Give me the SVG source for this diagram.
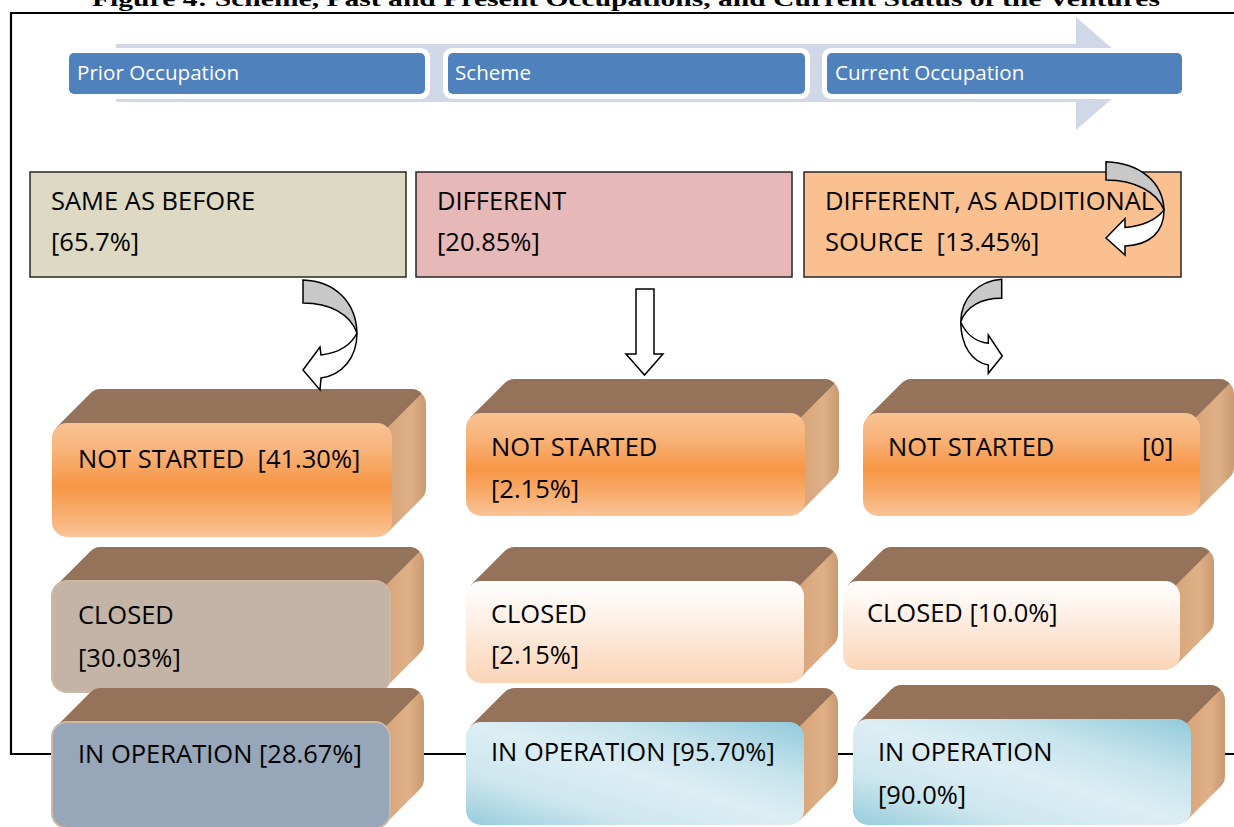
<svg xmlns="http://www.w3.org/2000/svg" width="1234" height="827" viewBox="0 0 1234 827">
<defs>
<style>
.t{font-family:"Open Sans","Noto Sans","Liberation Sans",sans-serif;font-size:25.5px;fill:#000;white-space:pre}
.h{font-family:"Open Sans","Noto Sans","Liberation Sans",sans-serif;font-size:20.6px;fill:#fff}
.frame{stroke:#000;stroke-width:2.2;fill:none}
.sil{fill:#D8A67B}
.top{fill:#94735A}
.arw{stroke:#000;stroke-width:1.5;stroke-linejoin:miter}
.g{fill:#C8C8C8}
.w{fill:#fff}
.r2{stroke:#262626;stroke-width:1.5}
</style>
<linearGradient id="gOrange" x1="0" y1="0" x2="0" y2="1">
<stop offset="0" stop-color="#F9C293"/>
<stop offset="0.22" stop-color="#F8B57D"/>
<stop offset="0.55" stop-color="#F79646"/>
<stop offset="0.8" stop-color="#F8AE70"/>
<stop offset="1" stop-color="#FAC498"/>
</linearGradient>
<linearGradient id="gPeach" x1="0" y1="0" x2="0" y2="1">
<stop offset="0" stop-color="#FFFFFF"/>
<stop offset="0.35" stop-color="#FEF1E8"/>
<stop offset="1" stop-color="#FAD4B6"/>
</linearGradient>
<linearGradient id="gBlue" x1="0" y1="1" x2="1" y2="0">
<stop offset="0" stop-color="#96CCDC"/>
<stop offset="0.25" stop-color="#CDE6EE"/>
<stop offset="0.5" stop-color="#DDEEF4"/>
<stop offset="0.72" stop-color="#C6E3EC"/>
<stop offset="1" stop-color="#92CADB"/>
</linearGradient>
<linearGradient id="gSide" x1="0" y1="0" x2="1" y2="0">
<stop offset="0" stop-color="#D8A67B"/>
<stop offset="0.9" stop-color="#D8A67B"/>
<stop offset="0.96" stop-color="#DFB087"/>
<stop offset="1" stop-color="#C99A70"/>
</linearGradient>
</defs>
<rect x="0" y="0" width="1234" height="827" fill="#fff"/>

<text x="92" y="6" font-family="Liberation Serif,serif" font-weight="bold" font-size="22" textLength="1068" lengthAdjust="spacingAndGlyphs">Figure 4: Scheme, Past and Present Occupations, and Current Status of the Ventures</text>

<g id="frame">
<line class="frame" x1="10" y1="13" x2="1234" y2="13" stroke-width="2.6"/>
<line class="frame" x1="11" y1="12" x2="11" y2="755"/>
<line class="frame" x1="10" y1="754" x2="1234" y2="754"/>
</g>

<g id="header">
<polygon points="116,44 1076,44 1076,17 1141,73.5 1076,130 1076,102 116,102" fill="#D0D8E8"/>
<g id="hdr-prior">
<rect x="64" y="48" width="366" height="51" rx="9" fill="#fff"/>
<rect x="69" y="53" width="356" height="41" rx="5" fill="#4F81BD"/>
<text class="h" x="77" y="80">Prior Occupation</text>
</g>
<g id="hdr-scheme">
<rect x="443" y="48" width="367" height="51" rx="9" fill="#fff"/>
<rect x="448" y="53" width="357" height="41" rx="5" fill="#4F81BD"/>
<text class="h" x="455" y="80">Scheme</text>
</g>
<g id="hdr-current">
<rect x="822" y="48" width="365" height="51" rx="9" fill="#fff"/>
<rect x="827" y="53" width="355" height="41" rx="5" fill="#4F81BD"/>
<text class="h" x="835" y="80">Current Occupation</text>
</g>
</g>

<g id="same">
<rect class="r2" x="30" y="172" width="376" height="105" fill="#DDD9C3"/>
<text class="t" x="51" y="210">SAME AS BEFORE</text>
<text class="t" x="51" y="251">[65.7%]</text>
</g>
<g id="different">
<rect class="r2" x="416" y="172" width="376" height="105" fill="#E6B8B7"/>
<text class="t" x="437" y="210">DIFFERENT</text>
<text class="t" x="437" y="251">[20.85%]</text>
</g>
<g id="additional">
<rect class="r2" x="804" y="172" width="377" height="105" fill="#FAC090"/>
<text class="t" x="825" y="210">DIFFERENT, AS ADDITIONAL</text>
<text class="t" x="825" y="251">SOURCE  [13.45%]</text>
</g>

<!-- 3D boxes -->
<g id="c1-notstarted" transform="translate(52,423)">
<path fill="url(#gSide)" d="M4.4,4.4 L38.4,-29.6 A15,15 0 0 1 49,-34 L359,-34 A15,15 0 0 1 374,-19 L374,65 A15,15 0 0 1 369.6,75.6 L335.6,109.6 L15,99 Z"/>
<path class="top" d="M4.4,4.4 L38.4,-29.6 A15,15 0 0 1 49,-34 L359,-34 A15,15 0 0 1 369.6,-29.6 L335.6,4.4 Z"/>
<rect x="0" y="0" width="340" height="114" rx="15" fill="url(#gOrange)"/>
<text class="t" x="26" y="45">NOT STARTED  [41.30%]</text>
</g>
<g id="c1-closed" transform="translate(52,581)">
<path fill="url(#gSide)" d="M4.4,4.4 L38.4,-29.6 A15,15 0 0 1 49,-34 L357,-34 A15,15 0 0 1 372,-19 L372,62 A15,15 0 0 1 367.6,72.6 L333.6,106.6 L15,96 Z"/>
<path class="top" d="M4.4,4.4 L38.4,-29.6 A15,15 0 0 1 49,-34 L357,-34 A15,15 0 0 1 367.6,-29.6 L333.6,4.4 Z"/>
<rect x="0" y="0" width="338" height="111" rx="15" fill="#C4B4A6" stroke="#CDB8A4" stroke-width="2"/>
<text class="t" x="26" y="43">CLOSED</text>
<text class="t" x="26" y="86">[30.03%]</text>
</g>
<g id="c1-inoperation" transform="translate(52,722)">
<path fill="url(#gSide)" d="M4.4,4.4 L38.4,-29.6 A15,15 0 0 1 49,-34 L357,-34 A15,15 0 0 1 372,-19 L372,57 A15,15 0 0 1 367.6,67.6 L333.6,101.6 L15,91 Z"/>
<path class="top" d="M4.4,4.4 L38.4,-29.6 A15,15 0 0 1 49,-34 L357,-34 A15,15 0 0 1 367.6,-29.6 L333.6,4.4 Z"/>
<rect x="0" y="0" width="338" height="106" rx="15" fill="#97A6B9" stroke="#CDB8A4" stroke-width="2"/>
<text class="t" x="26" y="41">IN OPERATION [28.67%]</text>
</g>

<g id="c2-notstarted" transform="translate(466,413)">
<path fill="url(#gSide)" d="M4.4,4.4 L38.4,-29.6 A15,15 0 0 1 49,-34 L358,-34 A15,15 0 0 1 373,-19 L373,54 A15,15 0 0 1 368.6,64.6 L334.6,98.6 L15,88 Z"/>
<path class="top" d="M4.4,4.4 L38.4,-29.6 A15,15 0 0 1 49,-34 L358,-34 A15,15 0 0 1 368.6,-29.6 L334.6,4.4 Z"/>
<rect x="0" y="0" width="339" height="103" rx="15" fill="url(#gOrange)"/>
<text class="t" x="25" y="43">NOT STARTED</text>
<text class="t" x="25" y="85">[2.15%]</text>
</g>
<g id="c2-closed" transform="translate(466,581)">
<path fill="url(#gSide)" d="M4.4,4.4 L38.4,-29.6 A15,15 0 0 1 49,-34 L357,-34 A15,15 0 0 1 372,-19 L372,53 A15,15 0 0 1 367.6,63.6 L333.6,97.6 L15,87 Z"/>
<path class="top" d="M4.4,4.4 L38.4,-29.6 A15,15 0 0 1 49,-34 L357,-34 A15,15 0 0 1 367.6,-29.6 L333.6,4.4 Z"/>
<rect x="0" y="0" width="338" height="102" rx="15" fill="url(#gPeach)"/>
<text class="t" x="25" y="42">CLOSED</text>
<text class="t" x="25" y="83">[2.15%]</text>
</g>
<g id="c2-inoperation" transform="translate(466,722)">
<path fill="url(#gSide)" d="M4.4,4.4 L38.4,-29.6 A15,15 0 0 1 49,-34 L357,-34 A15,15 0 0 1 372,-19 L372,54 A15,15 0 0 1 367.6,64.6 L333.6,98.6 L15,88 Z"/>
<path class="top" d="M4.4,4.4 L38.4,-29.6 A15,15 0 0 1 49,-34 L357,-34 A15,15 0 0 1 367.6,-29.6 L333.6,4.4 Z"/>
<rect x="0" y="0" width="338" height="103" rx="15" fill="url(#gBlue)"/>
<text class="t" x="25" y="39">IN OPERATION [95.70%]</text>
</g>

<g id="c3-notstarted" transform="translate(863,413)">
<path fill="url(#gSide)" d="M4.4,4.4 L38.4,-29.6 A15,15 0 0 1 49,-34 L356,-34 A15,15 0 0 1 371,-19 L371,54 A15,15 0 0 1 366.6,64.6 L332.6,98.6 L15,88 Z"/>
<path class="top" d="M4.4,4.4 L38.4,-29.6 A15,15 0 0 1 49,-34 L356,-34 A15,15 0 0 1 366.6,-29.6 L332.6,4.4 Z"/>
<rect x="0" y="0" width="337" height="103" rx="15" fill="url(#gOrange)"/>
<text class="t" x="25" y="43">NOT STARTED</text>
<text class="t" x="279" y="43">[0]</text>
</g>
<g id="c3-closed" transform="translate(843,581)">
<path fill="url(#gSide)" d="M4.4,4.4 L38.4,-29.6 A15,15 0 0 1 49,-34 L356,-34 A15,15 0 0 1 371,-19 L371,40 A15,15 0 0 1 366.6,50.6 L332.6,84.6 L15,74 Z"/>
<path class="top" d="M4.4,4.4 L38.4,-29.6 A15,15 0 0 1 49,-34 L356,-34 A15,15 0 0 1 366.6,-29.6 L332.6,4.4 Z"/>
<rect x="0" y="0" width="337" height="89" rx="15" fill="url(#gPeach)"/>
<text class="t" x="24" y="41">CLOSED [10.0%]</text>
</g>
<g id="c3-inoperation" transform="translate(853,719)">
<path fill="url(#gSide)" d="M4.4,4.4 L38.4,-29.6 A15,15 0 0 1 49,-34 L357,-34 A15,15 0 0 1 372,-19 L372,57 A15,15 0 0 1 367.6,67.6 L333.6,101.6 L15,91 Z"/>
<path class="top" d="M4.4,4.4 L38.4,-29.6 A15,15 0 0 1 49,-34 L357,-34 A15,15 0 0 1 367.6,-29.6 L333.6,4.4 Z"/>
<rect x="0" y="0" width="338" height="106" rx="15" fill="url(#gBlue)"/>
<text class="t" x="25" y="42">IN OPERATION</text>
<text class="t" x="25" y="85">[90.0%]</text>
</g>

<g id="connectors">
<g id="arrow-same">
<path class="arw g" d="M303,280 C335,281 356,302 357,333 C350,314 330,303 303,303 Z"/>
<path class="arw w" d="M357,333 C357,358 342,375 321,378 L320,390 L303,370 L320,347 L321,355 C338,353 351,345 357,333 Z"/>
</g>
<g id="arrow-different">
<path class="arw w" d="M636,289 L654,289 L654,354 L663,354 L644.5,375 L626,354 L636,354 Z"/>
</g>
<g id="arrow-additional-down">
<path class="arw g" d="M1001.7,279.3 C978,281 961,298 960.7,322 C966,306 982,298 1001.7,298.3 Z"/>
<path class="arw w" d="M960.7,322 C961,346 972,362 988.3,365 L988.3,373.3 L1002.3,356 L988.3,335 L988.3,343.3 C976,342 966,334 960.7,322 Z"/>
</g>
<g id="arrow-additional-loop">
<path class="arw g" d="M1106,161.7 C1140,163 1163,182 1164,210 C1157,192 1135,180 1106,180 Z"/>
<path class="arw w" d="M1164,210 C1164,232 1150,245 1125,246 L1125,255 L1106,238 L1125,218.5 L1125,227.5 C1142,226 1156,220 1164,210 Z"/>
</g>
</g>
</svg>
